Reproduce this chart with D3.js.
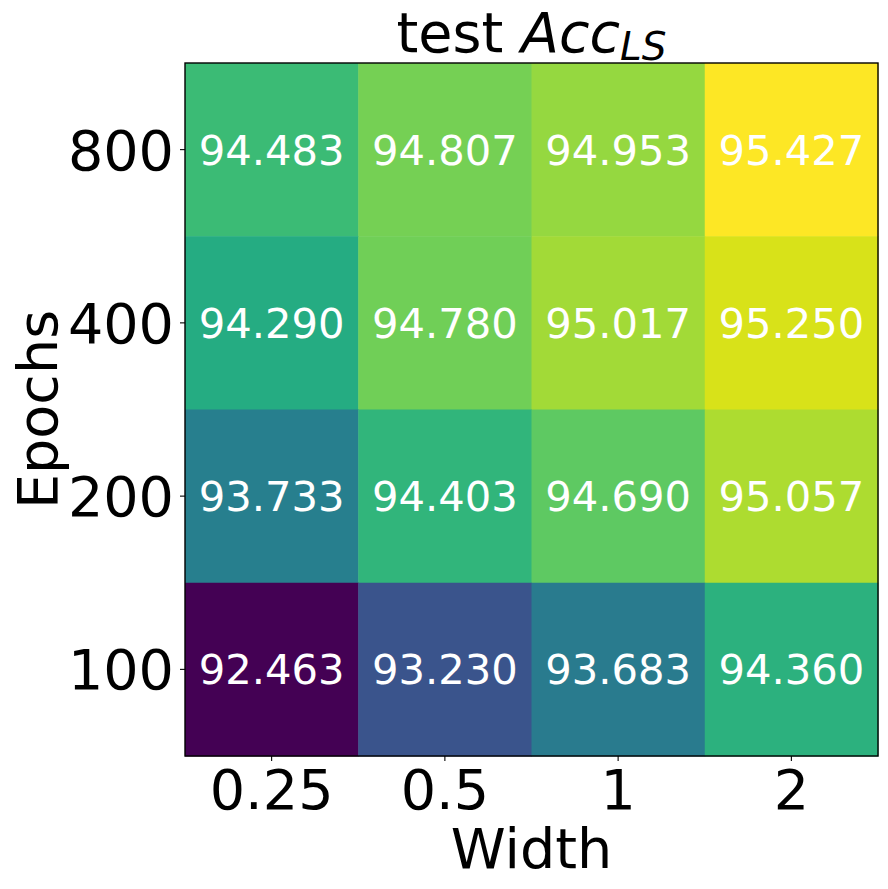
<!DOCTYPE html>
<html>
<head>
<meta charset="utf-8">
<script src="https://cdn.jsdelivr.net/npm/d3@7"></script>
<style>
  body { margin: 0; background: #fff; }
  text { font-family: "DejaVu Sans", sans-serif; }
</style>
</head>
<body>
<div id="chart"></div>
<script>
// labels of rows and columns
var widths = ["0.25", "0.5", "1", "2"];
var epochs = ["800", "400", "200", "100"];

// accuracy per row (epochs, top to bottom), one value per width
var acc800 = [94.483, 94.807, 94.953, 95.427];
var acc400 = [94.290, 94.780, 95.017, 95.250];
var acc200 = [93.733, 94.403, 94.690, 95.057];
var acc100 = [92.463, 93.230, 93.683, 94.360];
var rows = [acc800, acc400, acc200, acc100];

// set the dimensions and margins of the graph
var margin = {top: 63, right: 10, bottom: 133, left: 185},
width = 888 - margin.left - margin.right,
height = 889 - margin.top - margin.bottom;
width = 693; height = 693;

var cells = [];
rows.forEach(function(r, i){
    r.forEach(function(v, j){
        cells.push({epoch: epochs[i], width: widths[j], value: v});
    });
});

var svg = d3.select("#chart")
  .append("svg")
  .attr("width", 888)
  .attr("height", 889)
  .append("g")
  .attr("transform", "translate(" + margin.left + "," + margin.top + ")");

var x = d3.scaleBand().range([0, width]).domain(widths).padding(0);
var y = d3.scaleBand().range([0, height]).domain(epochs).padding(0);

var allVals = cells.map(d => d.value);
var myColor = d3.scaleSequential()
  .domain([d3.min(allVals), d3.max(allVals)])
  .interpolator(d3.interpolateViridis);

svg.selectAll("rect.cell")
  .data(cells)
  .join("rect")
  .attr("class", "cell")
  .attr("x", d => x(d.width))
  .attr("y", d => y(d.epoch))
  .attr("width", x.bandwidth() + 0.5)
  .attr("height", y.bandwidth() + 0.5)
  .style("fill", d => myColor(d.value));

svg.selectAll("text.val")
  .data(cells)
  .join("text")
  .attr("class", "val")
  .attr("x", d => x(d.width) + x.bandwidth() / 2)
  .attr("y", d => y(d.epoch) + y.bandwidth() / 2)
  .attr("text-anchor", "middle")
  .attr("dy", "0.36em")
  .style("font-size", "41.7px")
  .style("fill", "white")
  .text(d => d3.format(".3f")(d.value));

// frame
svg.append("rect")
  .attr("width", width).attr("height", height)
  .style("fill", "none").style("stroke", "black").style("stroke-width", 1.4);

// axes
var xAxis = svg.append("g")
  .attr("transform", "translate(0," + height + ")")
  .call(d3.axisBottom(x).tickSize(5).tickPadding(6));
var yAxis = svg.append("g")
  .call(d3.axisLeft(y).tickSize(5).tickPadding(6));
[xAxis, yAxis].forEach(function(a){
    a.select(".domain").remove();
    a.selectAll("line").style("stroke", "black").style("stroke-width", 1.1);
    a.selectAll("text").style("font-size", "55.6px").style("fill", "black")
      .style("font-family", "DejaVu Sans");
});
xAxis.selectAll("text").attr("dy", "0.76em");
yAxis.selectAll("text").attr("dy", "0.36em");

// axis labels
svg.append("text")
  .attr("x", width / 2).attr("y", 868 - margin.top)
  .attr("text-anchor", "middle")
  .style("font-size", "55.6px")
  .text("Width");

svg.append("text")
  .attr("transform", "translate(" + (57 - margin.left) + "," + (height / 2) + ") rotate(-90)")
  .attr("text-anchor", "middle")
  .style("font-size", "55.6px")
  .text("Epochs");

// title: test Acc_LS
var title = svg.append("text")
  .attr("x", width / 2).attr("y", 52 - margin.top)
  .attr("text-anchor", "middle")
  .style("font-size", "55.6px");
title.append("tspan").text("test ");
title.append("tspan").style("font-style", "italic").text("Acc");
title.append("tspan").style("font-style", "italic").style("font-size", "39px")
  .attr("dy", 8).text("LS");
</script>
</body>
</html>
